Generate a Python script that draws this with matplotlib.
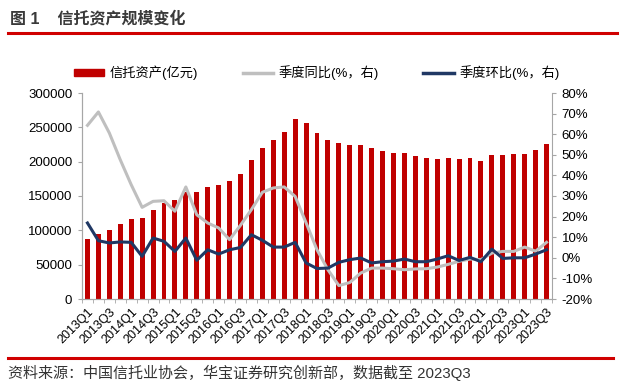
import numpy as np
import matplotlib
matplotlib.use('Agg')
import matplotlib.pyplot as plt
from matplotlib.lines import Line2D

plt.rcParams['font.family'] = ['Liberation Sans', 'Noto Sans CJK SC']
plt.rcParams['axes.unicode_minus'] = False

#quarters 2013Q1 - 2023Q3
quarters = [str(y) + 'Q' + str(q) for y in range(2013, 2024) for q in range(1, 5)][:43]

#trust assets (100 million yuan)
assets = [87400, 94700, 101000, 109200, 117000, 117500, 129100, 139800, 143700, 156500,
          155800, 163000, 165500, 171800, 181500, 202000, 219400, 231000, 243700, 262000,
          256000, 242000, 231000, 226700, 224700, 224700, 219400, 216000, 212600, 212000,
          208000, 204800, 203400, 205800, 203900, 204800, 201400, 210000, 210000, 210600,
          211600, 216500, 225700]

#year on year growth (%)
yoy = [64.3, 70.8, 60.6, 47.6, 35.5, 24.5, 27.4, 27.7, 22.6, 34.4,
       20.9, 16.9, 14.5, 8.8, 15.8, 23.4, 31.8, 33.9, 34.4, 29.8,
       17.0, 3.9, -5.8, -13.5, -12.0, -7.4, -5.0, -5.0, -5.3, -5.8,
       -5.4, -5.3, -4.5, -3.2, -1.7, -0.6, -0.9, 2.3, 3.1, 3.1,
       5.2, 3.2, 7.5]

#quarter on quarter growth (%)
qoq = [16.9, 8.3, 7.2, 7.7, 7.5, 0.7, 9.6, 8.0, 3.1, 9.6,
       -1.2, 3.9, 1.8, 3.9, 5.0, 11.2, 8.5, 5.2, 5.2, 7.5,
       -2.5, -5.2, -5.0, -2.2, -0.9, -0.1, -2.5, -1.9, -1.6, -0.6,
       -1.9, -1.9, -0.6, 1.0, -1.3, 0.2, -1.9, 4.2, -0.3, 0.0,
       0.0, 1.8, 3.9]

red = '#C00000'
grey = '#BFBFBF'
blue = '#203864'
axis_grey = '#A6A6A6'

x = np.arange(len(quarters))

fig = plt.figure(figsize = (6.26, 3.92), dpi = 100)
ax = fig.add_axes([82 / 626, 1 - 299 / 392, 470 / 626, 206 / 392])
ax2 = ax.twinx()

#bars on left axis
ax.bar(x, assets, width = 0.45, color = red, zorder = 2)
ax.set_xlim(-0.5, len(quarters) - 0.5)
ax.set_ylim(0, 300000)
ax.set_yticks(np.arange(0, 300001, 50000))

#growth lines on right axis
ax2.plot(x, yoy, color = grey, lw = 2.2, zorder = 3)
ax2.plot(x, qoq, color = blue, lw = 2.2, zorder = 4)
ax2.set_ylim(-20, 80)
ax2.set_yticks(np.arange(-20, 81, 10))
ax2.set_yticklabels([str(v) + '%' for v in range(-20, 81, 10)])

#x ticks : labels every second quarter, tick marks between categories
ax.set_xticks(x[::2])
ax.set_xticklabels(quarters[::2], rotation = 45, ha = 'right', va = 'top', rotation_mode = 'anchor')
ax.set_xticks(np.arange(-0.5, len(quarters), 1), minor = True)
ax.tick_params(axis = 'x', which = 'major', length = 0, pad = 5, labelsize = 9)
ax.tick_params(axis = 'x', which = 'minor', length = 3, color = axis_grey)
ax.tick_params(axis = 'y', length = 3, color = axis_grey, labelsize = 9.5, pad = 4)
ax2.tick_params(axis = 'y', length = 3, color = axis_grey, labelsize = 9.5, pad = 4)

for a in (ax, ax2):
    a.spines['top'].set_visible(False)
    for s in ('left', 'right', 'bottom'):
        a.spines[s].set_color(axis_grey)
ax.spines['right'].set_visible(False)

#legend
handles = [plt.Rectangle((0, 0), 1, 1, color = red),
           Line2D([0], [0], color = grey, lw = 2.5),
           Line2D([0], [0], color = blue, lw = 2.5)]
labels = ['信托资产(亿元)', '季度同比(%，右)', '季度环比(%，右)']
fig.legend(handles, labels, ncol = 3, frameon = False, fontsize = 9.5,
           loc = 'center left', bbox_to_anchor = (62 / 626, 1 - 73 / 392),
           handlelength = 2.3, handleheight = 0.5, handletextpad = 0.4, columnspacing = 3.4)

#title and source with red rules
fig.text(10 / 626, 1 - 19 / 392, '图 1    信托资产规模变化', fontsize = 11.5, color = '#3A3A3A',
         fontweight = 'bold', va = 'center', ha = 'left')
fig.add_artist(Line2D([8 / 626, 617 / 626], [1 - 33 / 392, 1 - 33 / 392], color = '#D00000', lw = 2.2))
fig.add_artist(Line2D([8 / 626, 613 / 626], [1 - 358 / 392, 1 - 358 / 392], color = '#D00000', lw = 2.2))
fig.text(8 / 626, 1 - 373 / 392, '资料来源：中国信托业协会，华宝证券研究创新部，数据截至 2023Q3', fontsize = 10.8,
         color = '#333333', va = 'center', ha = 'left')

plt.savefig('out.png', dpi = 100)
